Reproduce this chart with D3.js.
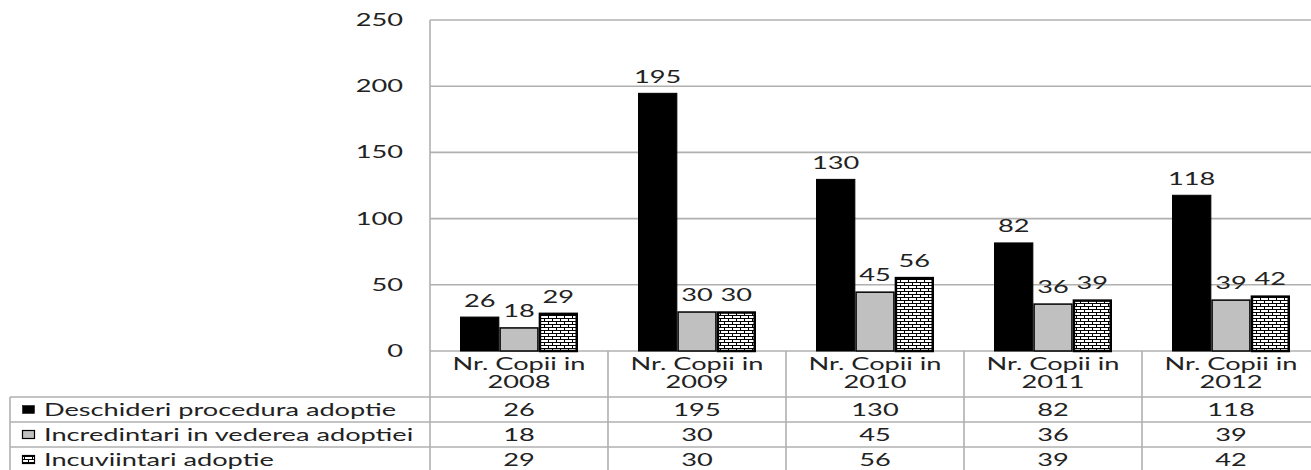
<!DOCTYPE html>
<html>
<head>
<meta charset="utf-8">
<script src="https://cdn.jsdelivr.net/npm/d3@7"></script>
<style>
html,body{margin:0;padding:0;background:#fff;}
svg{display:block;}
text{font-family:Lato,"Open Sans",sans-serif;fill:#222;}
</style>
</head>
<body>
<svg id="chart" width="1311" height="470"></svg>
<script>
const categories = ["Nr. Copii in 2008","Nr. Copii in 2009","Nr. Copii in 2010","Nr. Copii in 2011","Nr. Copii in 2012"];
const seriesNames = ["Deschideri procedura adoptie","Incredintari in vederea adoptiei","Incuviintari adoptie"];
const deschideri = [26,195,130,82,118];
const incredintari = [18,30,45,36,39];
const incuviintari = [29,30,56,39,42];
const yTicks = [0,50,100,150,200,250];

const seriesValues = [deschideri, incredintari, incuviintari];

const W = 1311, H = 470;
const plotLeft = 430, plotRight = 1320, plotTop = 20, plotBottom = 351;
const rowTop = 397, rowH = 25;
const SX = 1.6;      // horizontal stretch of the lettering
const FS = 17;
const gridColor = "#b0b0b0";

const svg = d3.select("#chart");

// brick pattern
const defs = svg.append("defs");
const pat = defs.append("pattern").attr("id","brick").attr("patternUnits","userSpaceOnUse")
  .attr("width",8).attr("height",6);
pat.append("rect").attr("width",8).attr("height",6).attr("fill","#fff");
pat.append("path").attr("d","M0,0.5H8M0,3.5H8M0.5,0V3M4.5,3V6").attr("stroke","#000").attr("stroke-width",1).attr("fill","none");

const x0 = d3.scaleBand().domain(categories).range([plotLeft, plotRight]).padding(0);
const x1 = d3.scaleBand().domain(seriesNames).range([0, x0.bandwidth()]).paddingInner(0).paddingOuter(0.763);
const y = d3.scaleLinear().domain([0,250]).range([plotBottom, plotTop]);

const fills = ["#000000","#c0c0c0","url(#brick)"];
const strokeW = [1,1.5,2.5];

function stext(g, x, yy, str, anchor){
  return g.append("text")
    .attr("transform",`translate(${x},${yy}) scale(${SX},1)`)
    .attr("text-anchor",anchor||"middle")
    .attr("font-size",FS)
    .text(str);
}

// gridlines
const grid = svg.append("g");
yTicks.forEach(t=>{
  grid.append("line").attr("x1",plotLeft).attr("x2",W).attr("y1",y(t)).attr("y2",y(t))
    .attr("stroke",gridColor).attr("stroke-width",1.6);
});

// y axis labels
const yax = svg.append("g");
yTicks.forEach(t=>{
  stext(yax, 403, y(t)+6, String(t), "end");
});

// bars
const bars = svg.append("g");
categories.forEach((c,ci)=>{
  seriesNames.forEach((s,si)=>{
    const v = seriesValues[si][ci];
    const bx = x0(c)+x1(s), bw = x1.bandwidth();
    const sw = strokeW[si];
    bars.append("rect")
      .attr("x",bx+sw/2).attr("y",y(v)+sw/2)
      .attr("width",bw-sw).attr("height",y(0)-y(v)-sw/2)
      .attr("fill",fills[si]).attr("stroke","#000").attr("stroke-width",sw);
    stext(bars, bx+bw/2, y(v)-10, String(v), "middle");
  });
});

// table lines
const tbl = svg.append("g").attr("stroke",gridColor).attr("stroke-width",1.6);
tbl.append("line").attr("x1",plotLeft).attr("x2",plotLeft).attr("y1",plotTop).attr("y2",H);
for(let r=0;r<3;r++){
  tbl.append("line").attr("x1",10).attr("x2",W).attr("y1",rowTop+r*rowH).attr("y2",rowTop+r*rowH);
}
tbl.append("line").attr("x1",10).attr("x2",10).attr("y1",rowTop).attr("y2",H);
categories.forEach((c,ci)=>{
  if(ci>0) tbl.append("line").attr("x1",x0(c)).attr("x2",x0(c)).attr("y1",plotBottom).attr("y2",H);
});

// header labels
const hdr = svg.append("g");
categories.forEach(c=>{
  const idx = c.lastIndexOf(" ");
  const cx = x0(c)+x0.bandwidth()/2;
  stext(hdr, cx, 370, c.slice(0,idx), "middle");
  stext(hdr, cx, 388, c.slice(idx+1), "middle");
});

// rows
const rows = svg.append("g");
seriesNames.forEach((s,si)=>{
  const cy = rowTop + si*rowH + rowH/2;
  rows.append("rect").attr("x",22.5).attr("y",cy-4).attr("width",12).attr("height",8)
    .attr("fill",fills[si]).attr("stroke","#000").attr("stroke-width",si===0?0.5:1.2);
  stext(rows, 44, cy+6, s, "start");
  categories.forEach((c,ci)=>{
    stext(rows, x0(c)+x0.bandwidth()/2, cy+6, String(seriesValues[si][ci]), "middle");
  });
});
</script>
</body>
</html>
